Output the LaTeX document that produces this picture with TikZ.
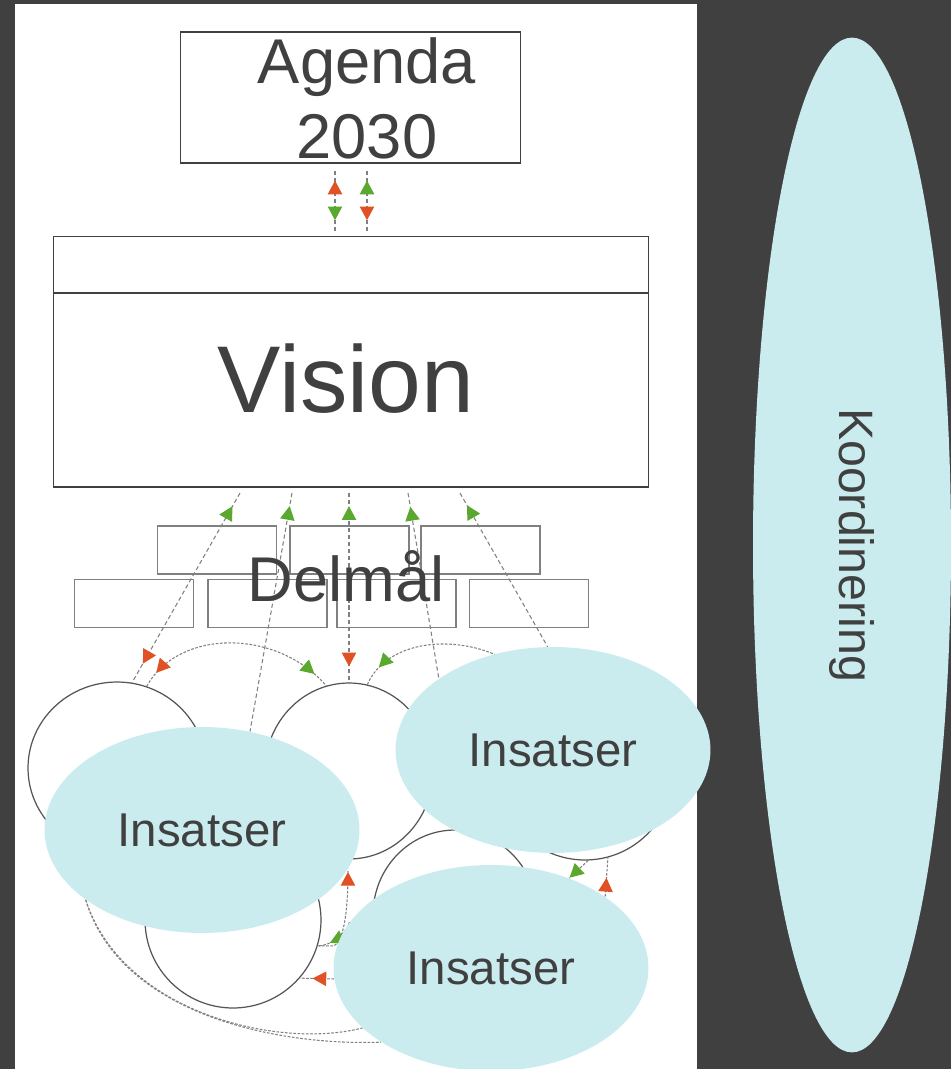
\documentclass[tikz,border=0pt]{standalone}
\usepackage{fontspec}
\setmainfont{Liberation Sans}
\usetikzlibrary{calc,shapes.geometric,decorations.markings,arrows.meta}
\pgfdeclarelayer{bg}
\pgfdeclarelayer{links}
\pgfsetlayers{bg,links,main}

\definecolor{bgdark}{RGB}{64,64,64}
\definecolor{inktxt}{RGB}{64,64,64}
\definecolor{insfill}{RGB}{202,236,239}
\definecolor{tipred}{RGB}{224,82,38}
\definecolor{tipgreen}{RGB}{90,168,46}
\definecolor{linkgray}{RGB}{128,128,128}
\definecolor{ringgray}{RGB}{85,85,85}

\tikzset{
  link/.style={draw=linkgray,line width=.6pt,dash pattern=on 2.4pt off 1.6pt},
  curl/.style={link,dash pattern=on 1.5pt off .9pt},
  tipto/.style 2 args={postaction={decorate,decoration={markings,
      mark=at position #1 with {\arrow[#2,solid]{Triangle[length=7.8pt,width=8.2pt]}}}}},
  tipback/.style 2 args={postaction={decorate,decoration={markings,
      mark=at position #1 with {\arrowreversed[#2,solid]{Triangle[length=7.8pt,width=8.2pt]}}}}},
  frame/.style={draw=inktxt,line width=.6pt,inner sep=0pt},
  goalbox/.style={draw=linkgray,line width=.6pt,inner sep=0pt,minimum width=2.38cm,minimum height=.96cm},
  ring/.style={ellipse,draw=ringgray,fill=white,line width=.7pt,inner sep=0pt},
  blob/.style={ellipse,fill=insfill,inner sep=0pt,minimum width=6.3cm,minimum height=4.12cm,
    text=inktxt,font=\fontsize{27}{32}\selectfont},
  label/.style={anchor=base,text=inktxt,inner sep=0pt},
}

\begin{document}
\begin{tikzpicture}[x=.02cm,y=-.02cm]
  \useasboundingbox (0,0) rectangle (951,1069);
  \begin{pgfonlayer}{bg}
    \fill[bgdark] (0,0) rectangle (951,1069);
    \fill[white] (15,4) rectangle (697,1069);
    \node[frame,minimum width=6.82cm,minimum height=2.62cm] (agenda) at (350.5,97.5) {};
    \node[frame,minimum width=11.92cm,minimum height=5.02cm] (vision) at (351,361.5) {};
    \coordinate (visbar) at (0,293);
    \draw[inktxt,line width=.6pt] (vision.west |- visbar) -- (vision.east |- visbar);
    \foreach \x [count=\i] in {217,349.5,480.5}
      \node[goalbox] (top\i) at (\x,550) {};
    \foreach \x [count=\i] in {134,267.5,396.5,529}
      \node[goalbox] (low\i) at (\x,603.5) {};
    \node[ring,minimum width=3.56cm,minimum height=3.44cm] (c1) at (117,768) {};
    \node[ring,minimum width=3.36cm,minimum height=3.52cm] (c2) at (349,771) {};
    \node[ring,minimum size=3.52cm] (c3) at (233,920) {};
    \node[ring,minimum width=3.28cm,minimum height=3.4cm] (c4) at (455,915) {};
    \node[ring,minimum size=3.52cm] (c5) at (585,772) {};
  \end{pgfonlayer}

  \node[ellipse,fill=insfill,inner sep=0pt,minimum width=20.3cm,minimum height=3.96cm,rotate=-90,
    text=inktxt,font=\fontsize{27.5}{33}\selectfont] (koord) at (852,545) {Koordinering};

  \node[blob] (ins1) at (202,830) {Insatser};
  \node[blob] (ins2) at (553,750) {Insatser};
  \node[blob] (ins3) at (491,968) {Insatser};

  \node[label,font=\fontsize{36}{43}\selectfont] (agtxt) at (367,83) {Agenda};
  \node[label,font=\fontsize{36}{43}\selectfont] (yrtxt) at (367,158) {2030};
  \node[label,font=\fontsize{54}{64}\selectfont] (vistxt) at (346,412) {Vision};
  \node[label,font=\fontsize{36}{43}\selectfont] (goaltxt) at (346,601) {Delmål};

  \begin{pgfonlayer}{links}
    % agenda <-> vision
    \coordinate (ag1) at (335,171); \coordinate (vi1) at (335,231);
    \coordinate (ag2) at (367,171); \coordinate (vi2) at (367,231);
    \draw[link,tipback={.16}{tipred},tipto={.82}{tipgreen}] (ag1) -- (vi1);
    \draw[link,tipback={.16}{tipgreen},tipto={.82}{tipred}] (ag2) -- (vi2);
    % vision <-> circles
    \coordinate (v1) at (240,493); \coordinate (v2) at (292,493);
    \coordinate (v3) at (349,493); \coordinate (v4) at (408,493);
    \coordinate (v5) at (460,493);
    \draw[link,tipback={.07}{tipgreen},tipto={.9}{tipred}] (v1) -- (c1.80);
    \draw[link,tipback={.055}{tipgreen}] (v2) -- (ins1.64);
    \draw[link,tipback={.07}{tipgreen},tipto={.915}{tipred}] (v3) -- (c2.north);
    \draw[link,tipback={.075}{tipgreen}] (v4) -- (ins2.148);
    \draw[link,tipback={.08}{tipgreen}] (v5) -- (ins2.93);
    % between circles
    \draw[curl,tipback={.08}{tipred},tipto={.92}{tipgreen}]
      (c1.70) .. controls +(32,-58) and +(-49,-57) .. (c2.105);
    \draw[curl,tipback={.1}{tipgreen}]
      (c2.78) .. controls +(25,-58) and +(-40,-62) .. (c5.118);
    \coordinate (c2foot) at (348,871);
    \draw[curl,tipto={.99}{tipred}]
      (c3.-17) -- ++(16,0) .. controls +(12,-6) and +(0,30) .. (c2foot);
    \draw[curl,tipto={.7}{tipgreen}]
      (ins3.162) .. controls +(-4,12) and +(13,0) .. (c3.-17);
    \draw[curl,tipto={.63}{tipred}] (ins3.184) -- (c3.-41);
    \draw[curl,tipto={.97}{tipgreen}] (c5.-88) -- (ins3.49);
    \draw[curl,tipto={.48}{tipred}] (ins3.32) -- (c5.-75);
    \draw[curl] (ins1.211) .. controls +(36,112) and +(-85,22) .. (ins3.205);
    \draw[curl] (ins1.211) .. controls +(34,114) and +(-105,4) .. (ins3.214);
  \end{pgfonlayer}
\end{tikzpicture}
\end{document}
